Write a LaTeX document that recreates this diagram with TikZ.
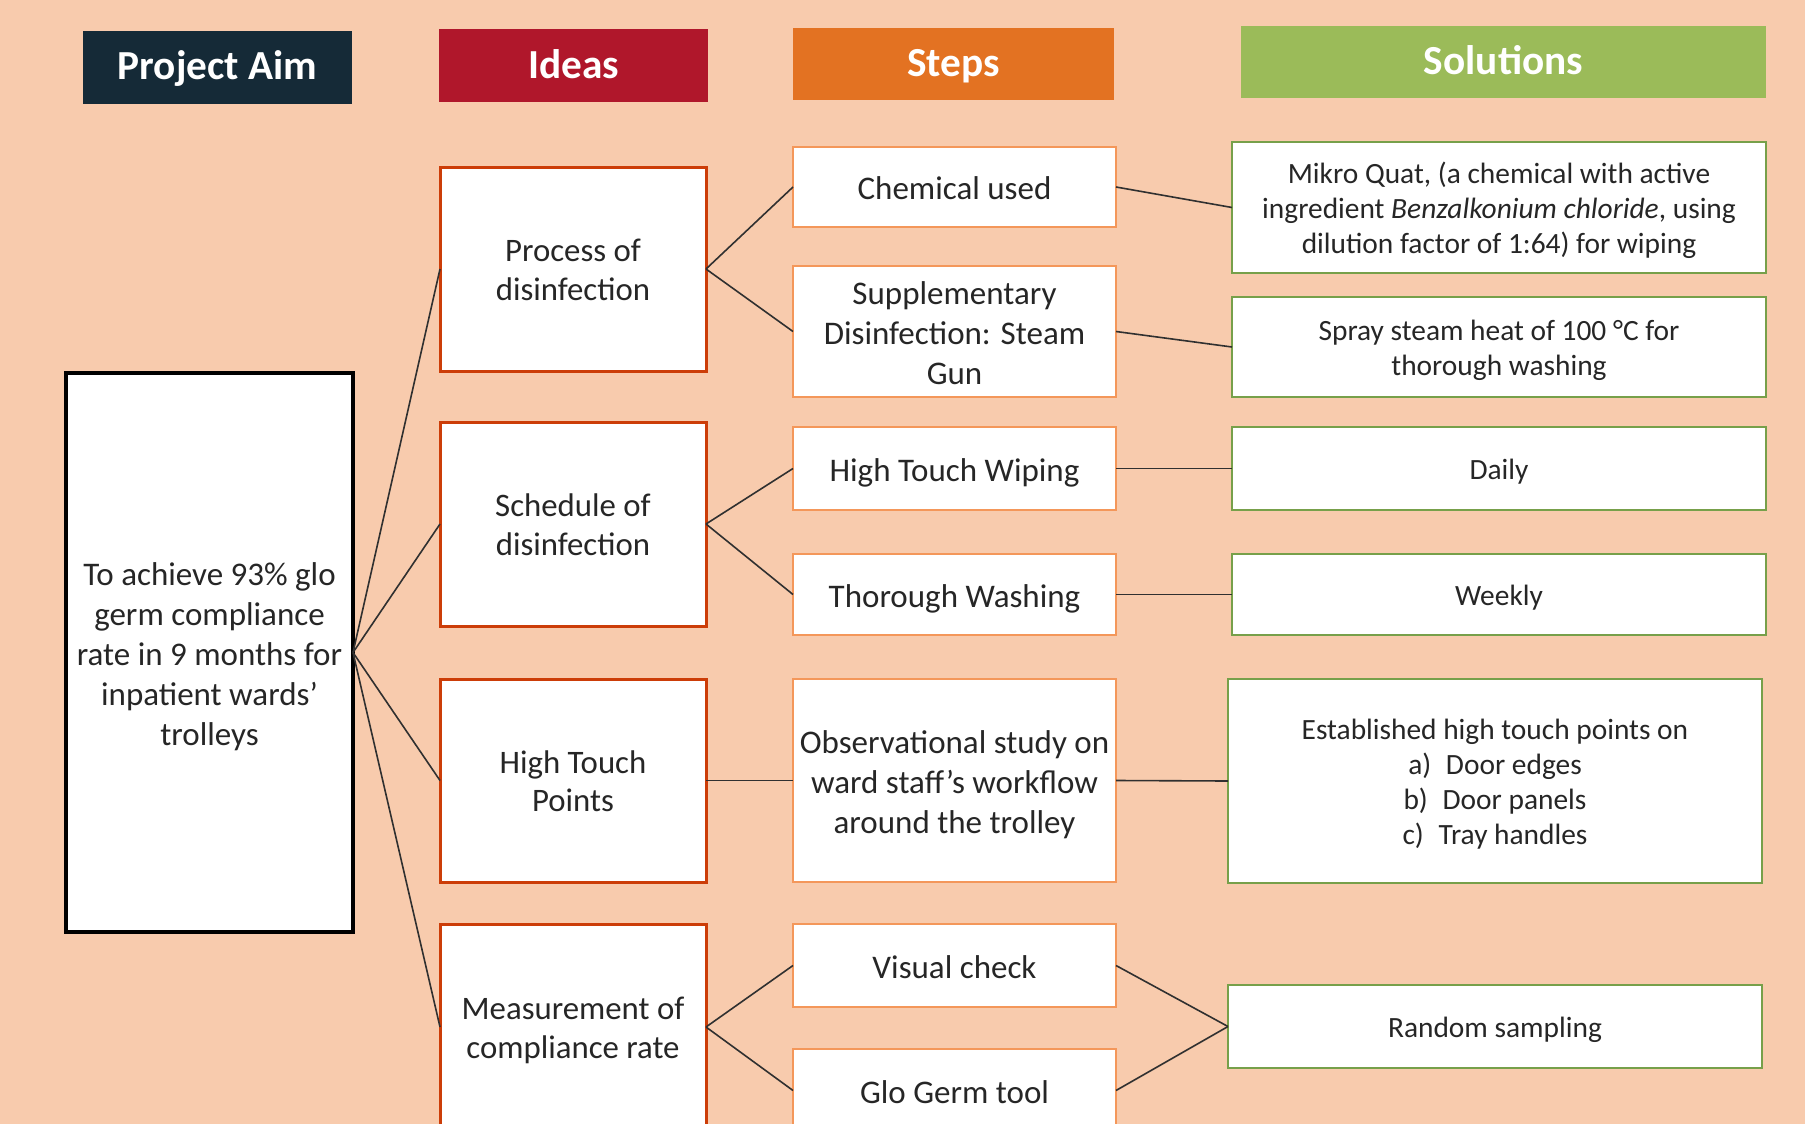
\documentclass[tikz,border=0pt]{standalone}
\usepackage{fontspec}
\setmainfont{Carlito}
\definecolor{bg}{HTML}{F8CBAD}
\definecolor{haim}{HTML}{152A37}
\definecolor{hidea}{HTML}{B0172B}
\definecolor{hstep}{HTML}{E37222}
\definecolor{hsol}{HTML}{9BBB59}
\definecolor{ideaborder}{HTML}{CC3D08}
\definecolor{stepborder}{HTML}{F4975A}
\definecolor{solborder}{HTML}{77A04A}
\definecolor{txt}{HTML}{262626}
\definecolor{linec}{HTML}{303030}
% centred lines of text with fixed line boxes, lowered so cap heights sit at the box centre
\newcommand\tx[2][4.5pt]{\raisebox{-#1}[\height][\depth]{\begin{tabular}{@{}c@{}}#2\end{tabular}}}
\begin{document}
\begin{tikzpicture}[x=1pt,y=-1pt,
  box/.style={rectangle, fill=white, inner sep=4pt, outer sep=0pt, text=txt},
  aimbox/.style={box, draw=black, line width=3.5pt, font=\fontsize{33}{40}\selectfont},
  ideabox/.style={box, draw=ideaborder, line width=3pt, font=\fontsize{32.8}{38.5}\selectfont},
  stepbox/.style={box, draw=stepborder, line width=1.6pt, font=\fontsize{33}{40}\selectfont},
  solbox/.style={box, draw=solborder, line width=2pt, font=\fontsize{29.4}{35}\selectfont},
  header/.style={rectangle, text=white, font=\bfseries\fontsize{41.3}{48}\selectfont, inner sep=0pt, outer sep=0pt},
  link/.style={draw=linec, line width=1.6pt}]
\useasboundingbox (0,0) rectangle (1805,1124);
\clip (0,0) rectangle (1805,1124);
\fill[bg] (0,0) rectangle (1805,1124);

% headers
\node[header, fill=haim, minimum width=269pt, minimum height=73pt] (h1) at (217.5,67.5) {\tx[2.8pt]{Project Aim}};
\node[header, fill=hidea, minimum width=269pt, minimum height=73pt] (h2) at (573.5,65.5) {\tx[3.3pt]{Ideas}};
\node[header, fill=hstep, minimum width=321pt, minimum height=72pt] (h3) at (953.5,64) {\tx[3.3pt]{Steps}};
\node[header, fill=hsol, minimum width=525pt, minimum height=72pt] (h4) at (1503.5,62) {\tx[3.3pt]{Solutions}};

% aim
\node[aimbox, minimum width=287pt, minimum height=559pt] (aim) at (209.5,652.5)
  {\tx{To achieve 93\% glo\\germ compliance\\rate in 9 months for\\inpatient wards’\\trolleys}};

% ideas
\node[ideabox, minimum width=266pt, minimum height=204pt] (i1) at (573,269) {\tx{Process of\\disinfection}};
\node[ideabox, minimum width=266pt, minimum height=204pt] (i2) at (573,524) {\tx{Schedule of\\disinfection}};
\node[ideabox, minimum width=266pt, minimum height=203pt] (i3) at (573,780.5) {\tx{High Touch\\Points}};
\node[ideabox, minimum width=266pt, minimum height=206pt] (i4) at (573,1027) {\tx{Measurement of\\compliance rate}};

% steps
\node[stepbox, minimum width=323pt, minimum height=80pt] (s1) at (954.5,187) {\tx{Chemical used}};
\node[stepbox, minimum width=323pt, minimum height=131pt] (s2) at (954.5,331.5) {\tx{Supplementary\\Disinfection: Steam\\Gun}};
\node[stepbox, minimum width=323pt, minimum height=83pt] (s3) at (954.5,468.5) {\tx{High Touch Wiping}};
\node[stepbox, minimum width=323pt, minimum height=81pt] (s4) at (954.5,594.5) {\tx{Thorough Washing}};
\node[stepbox, minimum width=323pt, minimum height=203pt] (s5) at (954.5,780.5) {\tx{Observational study on\\ward staff’s workflow\\around the trolley}};
\node[stepbox, minimum width=323pt, minimum height=83pt] (s6) at (954.5,965.5) {\tx{Visual check}};
\node[stepbox, minimum width=323pt, minimum height=83pt] (s7) at (954.5,1090.5) {\tx{Glo Germ tool}};

% solutions
\node[solbox, minimum width=534pt, minimum height=131pt] (t1) at (1499,207.5)
  {\tx[4.2pt]{Mikro Quat, (a chemical with active\\ingredient \textit{Benzalkonium chloride}, using\\dilution factor of 1:64) for wiping}};
\node[solbox, minimum width=534pt, minimum height=100pt] (t2) at (1499,347) {\tx[4.2pt]{Spray steam heat of 100 °C for\\thorough washing}};
\node[solbox, minimum width=534pt, minimum height=83pt] (t3) at (1499,468.5) {\tx[4.2pt]{Daily}};
\node[solbox, minimum width=534pt, minimum height=81pt] (t4) at (1499,594.5) {\tx[4.2pt]{Weekly}};
\node[solbox, minimum width=534pt, minimum height=204pt] (t5) at (1495,781)
  {\tx[4.2pt]{Established high touch points on\\a)\enspace Door edges\\b)\enspace Door panels\\c)\enspace Tray handles}};
\node[solbox, minimum width=534pt, minimum height=83pt] (t6) at (1495,1026.5) {\tx[4.2pt]{Random sampling}};

% connectors
\foreach \n in {i1,i2,i3,i4} \draw[link] (aim.east) -- (\n.west);
\draw[link] (i1.east) -- (s1.west);
\draw[link] (i1.east) -- (s2.west);
\draw[link] (i2.east) -- (s3.west);
\draw[link] (i2.east) -- (s4.west);
\draw[link] (i3.east) -- (s5.west);
\draw[link] (i4.east) -- (s6.west);
\draw[link] (i4.east) -- (s7.west);
\draw[link] (s1.east) -- (t1.west);
\draw[link] (s2.east) -- (t2.west);
\draw[link] (s3.east) -- (t3.west);
\draw[link] (s4.east) -- (t4.west);
\draw[link] (s5.east) -- (t5.west);
\draw[link] (s6.east) -- (t6.west);
\draw[link] (s7.east) -- (t6.west);
\end{tikzpicture}
\end{document}
